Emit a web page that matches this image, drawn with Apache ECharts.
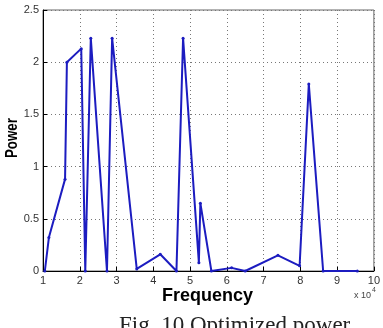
<!DOCTYPE html>
<html><head><meta charset="utf-8">
<script src="https://cdn.jsdelivr.net/npm/echarts@6/dist/echarts.min.js"></script>
<style>html,body{margin:0;padding:0;background:#fff}#c{width:383px;height:328px}</style>
</head><body><div id="c"></div>
<script>
const freq = [1.05, 1.16, 1.6, 1.65, 2.04, 2.15, 2.3, 2.74, 2.88, 3.55, 4.19, 4.63, 4.81, 5.24, 5.28, 5.58, 6.13, 6.5, 7.39, 7.98, 8.23, 8.62, 9.55];
const power = [0, 0.32, 0.88, 2.0, 2.13, 0, 2.23, 0, 2.23, 0.02, 0.16, 0, 2.23, 0.08, 0.65, 0, 0.03, 0, 0.15, 0.05, 1.79, 0, 0];
const xTicks = [1, 2, 3, 4, 5, 6, 7, 8, 9, 10];
const yTicks = [0, 0.5, 1, 1.5, 2, 2.5];

const chart = echarts.init(document.getElementById('c'), null, {renderer: 'canvas'});
const data = freq.map((f, i) => [f, power[i]]);
const tickLabel = {color: '#333', fontSize: 11, fontFamily: 'Liberation Sans, Arial, sans-serif'};
const split = {show: true, lineStyle: {color: '#777', type: [1, 3], width: 1}};
chart.setOption({
  animation: false,
  grid: {left: 43, right: 6, top: 10, bottom: 57, show: true, borderColor: '#666', borderWidth: 1, backgroundColor: '#fff'},
  xAxis: {
    type: 'value', min: 1, max: 10, interval: 1,
    axisLine: {show: true, onZero: false, lineStyle: {color: '#000'}},
    axisTick: {show: true, inside: true, length: 4, lineStyle: {color: '#000'}},
    axisLabel: Object.assign({margin: 4, formatter: v => xTicks.includes(v) ? String(v) : ''}, tickLabel),
    splitLine: split
  },
  yAxis: {
    type: 'value', min: 0, max: 2.5, interval: 0.5,
    axisLine: {show: true, lineStyle: {color: '#000'}},
    axisTick: {show: true, inside: true, length: 4, lineStyle: {color: '#000'}},
    axisLabel: Object.assign({margin: 4, formatter: v => yTicks.includes(v) ? String(v) : ''}, tickLabel),
    splitLine: split
  },
  series: [{
    type: 'line', data: data,
    symbol: 'circle', symbolSize: 3,
    lineStyle: {color: '#1c1cc0', width: 2},
    itemStyle: {color: '#1c1cc0'}
  }],
  graphic: [
    {type: 'text', left: 162, top: 287, style: {text: 'Frequency', font: 'bold 18px "Liberation Sans", Arial, sans-serif', fill: '#000'}},
    {type: 'text', left: 354, top: 291, style: {text: 'x 10', font: '9px "Liberation Sans", Arial, sans-serif', fill: '#444'}},
    {type: 'text', left: 372, top: 287, style: {text: '4', font: '7px "Liberation Sans", Arial, sans-serif', fill: '#444'}},
    {type: 'text', x: 5, y: 158, rotation: Math.PI / 2, scaleX: 0.83, style: {text: 'Power', font: 'bold 16px "Liberation Sans", Arial, sans-serif', fill: '#000', textAlign: 'left', textVerticalAlign: 'top'}},
    {type: 'text', left: 119, top: 314, style: {text: 'Fig. 10 Optimized power', font: '23px "Liberation Serif", "Times New Roman", serif', fill: '#222'}}
  ]
});
</script></body></html>
